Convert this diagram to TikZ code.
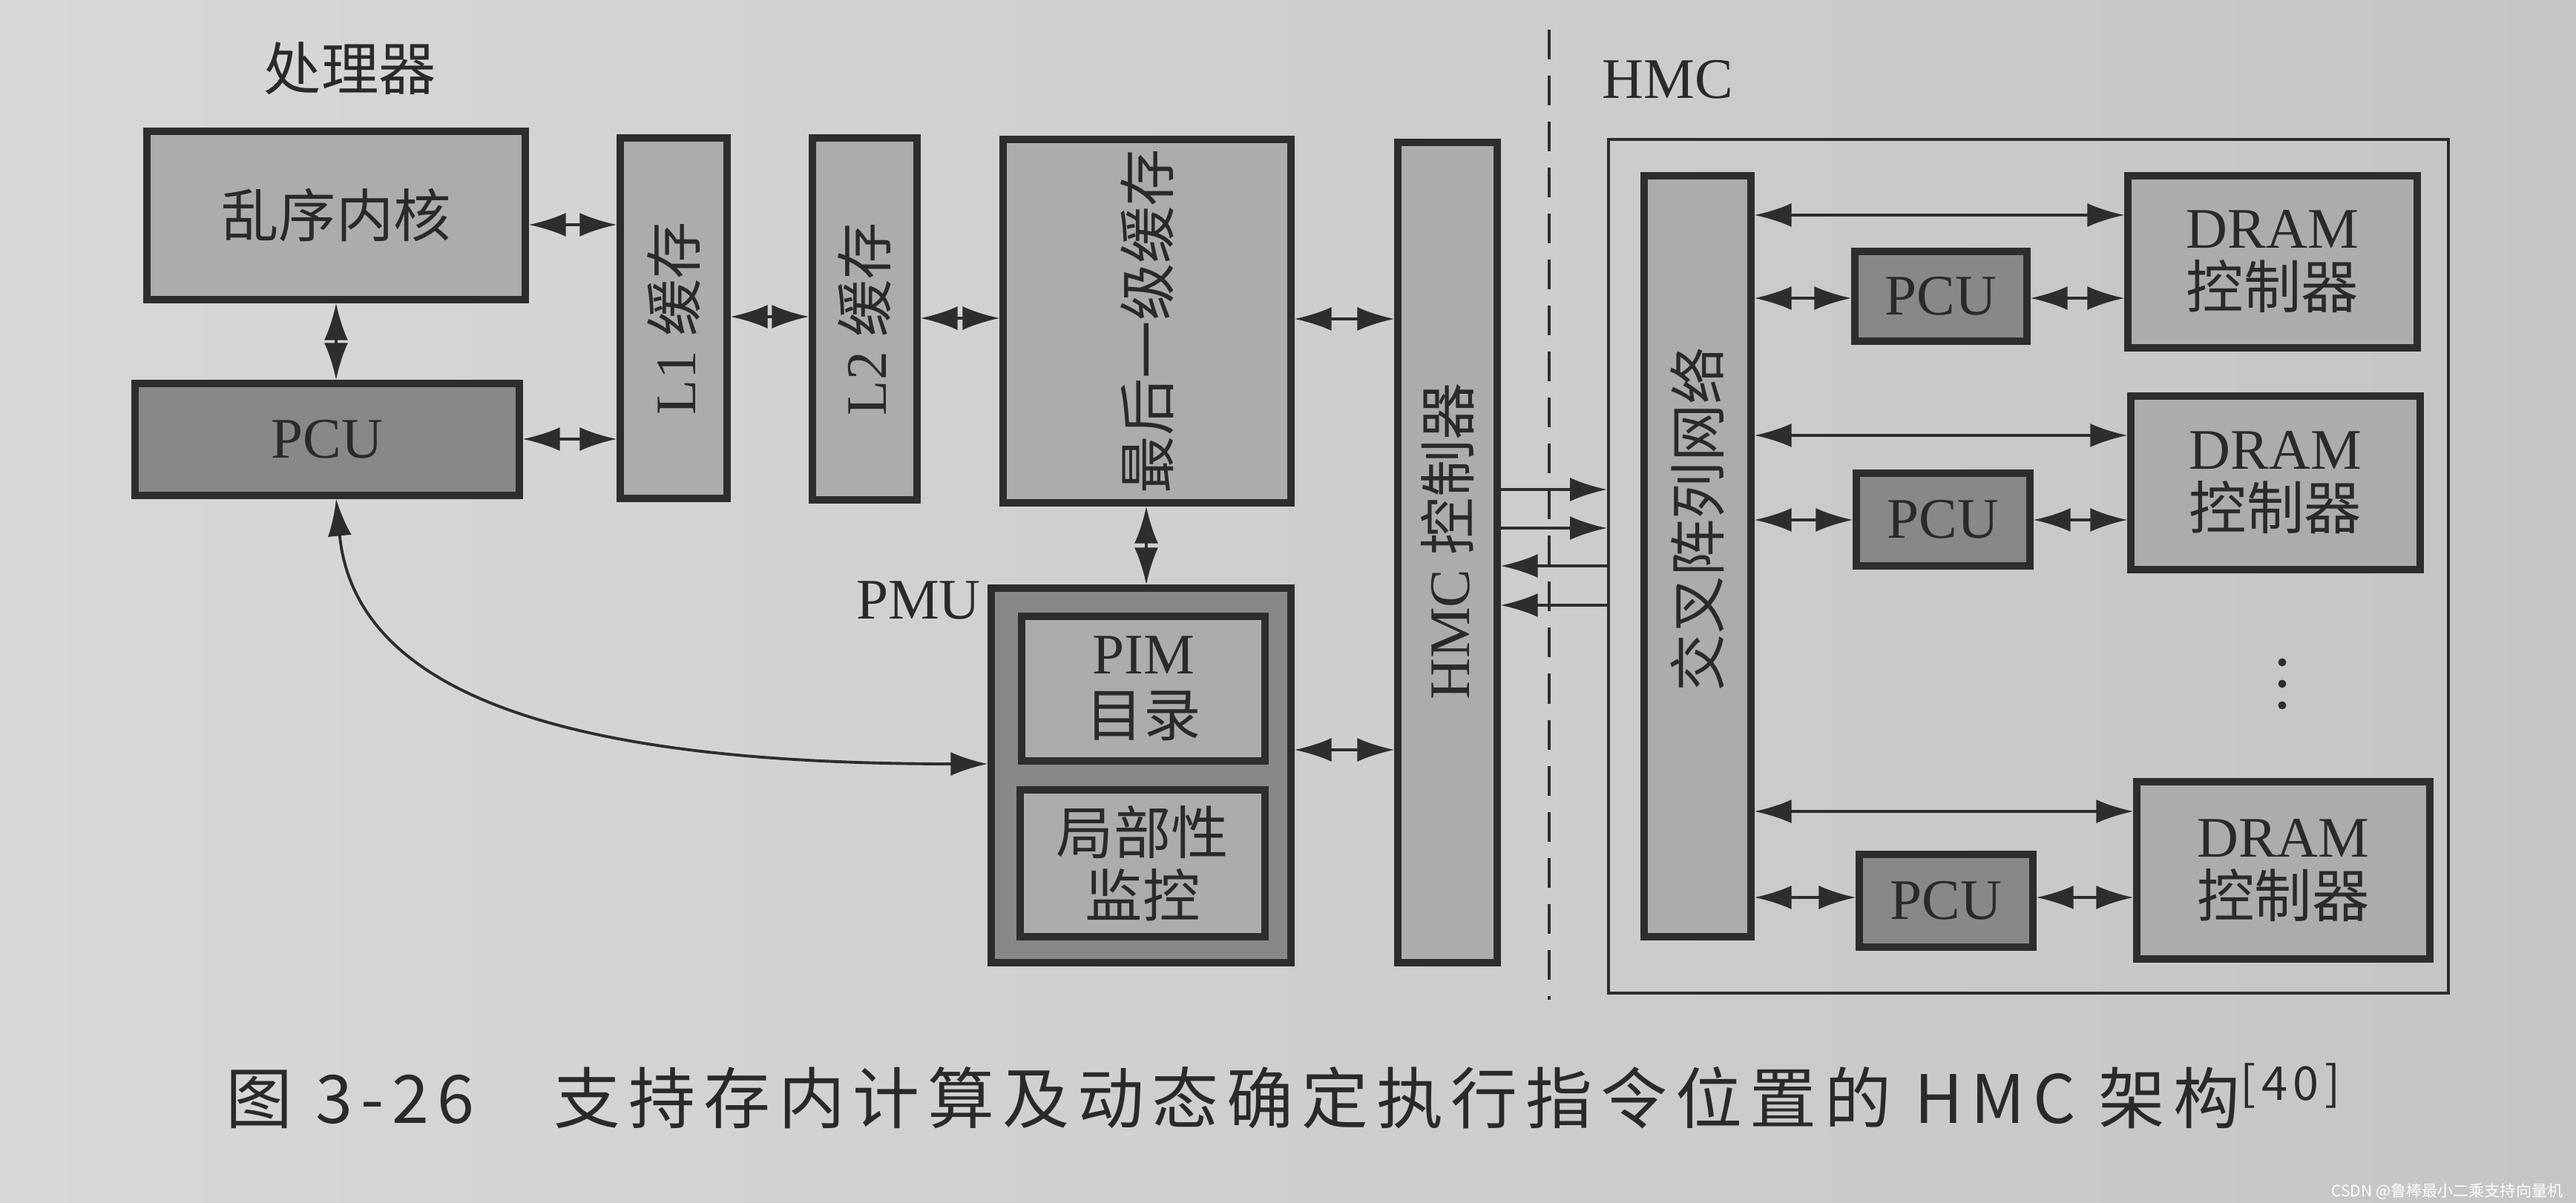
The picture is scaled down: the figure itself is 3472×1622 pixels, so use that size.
\documentclass[tikz,border=0pt]{standalone}
\usepackage{fontspec}
\usepackage{graphicx}
\setmainfont{Liberation Serif}
\newfontfamily\cjk{Noto Sans CJK SC}
\newfontfamily\capfont[LetterSpace=12]{Noto Sans CJK SC}
\newcommand\zh[1]{{\cjk #1}}
\usetikzlibrary{arrows.meta,fit}
\definecolor{paperL}{RGB}{216,217,214}
\definecolor{paperR}{RGB}{196,198,195}
\definecolor{lightfill}{RGB}{172,173,170}
\definecolor{darkfill}{RGB}{136,137,134}
\definecolor{edge}{RGB}{45,45,45}
\definecolor{ink}{RGB}{42,42,42}
\tikzset{
  box/.style={draw=edge, line width=2.6pt, fill=lightfill, inner sep=0pt},
  dbox/.style={box, fill=darkfill},
  hmcbox/.style={draw=edge, line width=1.1pt, inner sep=0pt},
  txt/.style={text=ink, font=\fontsize{22}{27}\selectfont, inner sep=0pt, align=center},
  dbl/.style={{Latex[length=0.5cm,width=0.32cm]}-{Latex[length=0.5cm,width=0.32cm]}, line width=1.1pt, draw=edge},
  sgl/.style={-{Latex[length=0.5cm,width=0.32cm]}, line width=1.1pt, draw=edge},
  divider/.style={draw=edge, line width=1.2pt, dash pattern=on 0.4cm off 0.22cm},
  dotmark/.style={fill=edge}
}
\begin{document}
\begin{tikzpicture}[x=0.01cm,y=-0.01cm]
\useasboundingbox (0,0) rectangle (3472,1622);
\shade[left color=paperL, right color=paperR] (0,0) rectangle (3472,1622);

% ---- processor side ----
\node[txt] (procL) at (472,92) {\zh{处理器}};
\node[box,  fit={(198,177)(708,404)}] (core) {};
\node[txt] (coreT) at (core) {\zh{乱序内核}};
\node[dbox, fit={(182,517)(700,668)}] (pcu0) {};
\node[txt] (pcu0T) at (pcu0) {PCU};
\node[box,  fit={(836,186)(980,672)}] (l1) {};
\node[txt, rotate=90] (l1T) at (l1) {L1 \zh{缓存}};
\node[box,  fit={(1095,186)(1236,674)}] (l2) {};
\node[txt, rotate=90] (l2T) at (l2) {L2 \zh{缓存}};
\node[box,  fit={(1352,188)(1740,678)}] (llc) {};
\node[txt, rotate=90] (llcT) at (llc) {\zh{最后一级缓存}};

\node[txt] (pmuL) at (1238,810) {PMU};
\node[dbox, fit={(1336,793)(1740,1298)}] (pmu) {};
\node[box,  fit={(1377,831)(1705,1026)}] (pim) {};
\node[txt] (pimT) at (pim) {PIM\\[-3pt]\zh{目录}};
\node[box,  fit={(1375,1065)(1705,1263)}] (loc) {};
\node[txt] (locT) at (loc) {\zh{局部性}\\[-3pt]\zh{监控}};

\node[box,  fit={(1884,192)(2018,1298)}] (hmcc) {};
\node[txt, rotate=90] (hmccT) at (1951,730) {HMC \zh{控制器}};

% ---- divider ----
\coordinate (dtop) at (2088,40);
\coordinate (dbot) at (2088,1348);
\draw[divider] (dtop) -- (dbot);

% ---- HMC side ----
\node[txt] (hmcL) at (2248,107) {HMC};
\node[hmcbox, fit={(2168,188)(3300,1339)}] (outer) {};
\node[box,  fit={(2216,237)(2360,1263)}] (xbar) {};
\node[txt, rotate=90] (xbarT) at (2288,700) {\zh{交叉阵列网络}};

\node[box,  fit={(2868,237)(3258,469)}] (dram1) {};
\node[txt] (dram1T) at (dram1) {DRAM\\[-4pt]\zh{控制器}};
\node[dbox, fit={(2500,339)(2732,460)}] (pcu1) {};
\node[txt] (pcu1T) at (pcu1) {PCU};

\node[box,  fit={(2872,534)(3262,768)}] (dram2) {};
\node[txt] (dram2T) at (dram2) {DRAM\\[-4pt]\zh{控制器}};
\node[dbox, fit={(2502,638)(2736,763)}] (pcu2) {};
\node[txt] (pcu2T) at (pcu2) {PCU};

% vertical ellipsis
\fill[dotmark] (3076,893) circle (5.5);
\fill[dotmark] (3076,922) circle (5.5);
\fill[dotmark] (3076,951) circle (5.5);

\node[box,  fit={(2880,1054)(3275,1293)}] (dram3) {};
\node[txt] (dram3T) at (dram3) {DRAM\\[-4pt]\zh{控制器}};
\node[dbox, fit={(2506,1152)(2740,1277)}] (pcu3) {};
\node[txt] (pcu3T) at (pcu3) {PCU};

% ---- connectors: processor ----
\draw[dbl] (core.east |- 0,303) -- (l1.west |- 0,303);
\draw[dbl] (pcu0.east |- 0,592) -- (l1.west |- 0,592);
\draw[dbl] (core.south -| 453,0) -- (pcu0.north -| 453,0);
\draw[dbl] (l1.east |- 0,427) -- (l2.west |- 0,427);
\draw[dbl] (l2.east |- 0,429) -- (llc.west |- 0,429);
\draw[dbl] (llc.east |- 0,430) -- (hmcc.west |- 0,430);
\draw[dbl] (llc.south -| 1545,0) -- (pmu.north -| 1545,0);
\draw[dbl] (pmu.east |- 0,1011) -- (hmcc.west |- 0,1011);
\draw[dbl] (pcu0.south -| 453,0) .. controls (480,950) and (800,1030) .. (pmu.west |- 0,1030);

% ---- connectors: HMC link ----
\draw[sgl] (hmcc.east |- 0,660) -- (outer.west |- 0,660);
\draw[sgl] (hmcc.east |- 0,712) -- (outer.west |- 0,712);
\draw[sgl] (outer.west |- 0,763) -- (hmcc.east |- 0,763);
\draw[sgl] (outer.west |- 0,816) -- (hmcc.east |- 0,816);

% ---- connectors: inside HMC ----
\draw[dbl] (xbar.east |- 0,290) -- (dram1.west |- 0,290);
\draw[dbl] (xbar.east |- 0,402) -- (pcu1.west |- 0,402);
\draw[dbl] (pcu1.east |- 0,402) -- (dram1.west |- 0,402);
\draw[dbl] (xbar.east |- 0,587) -- (dram2.west |- 0,587);
\draw[dbl] (xbar.east |- 0,701) -- (pcu2.west |- 0,701);
\draw[dbl] (pcu2.east |- 0,701) -- (dram2.west |- 0,701);
\draw[dbl] (xbar.east |- 0,1094) -- (dram3.west |- 0,1094);
\draw[dbl] (xbar.east |- 0,1210) -- (pcu3.west |- 0,1210);
\draw[dbl] (pcu3.east |- 0,1210) -- (dram3.west |- 0,1210);

% ---- caption ----
\node[anchor=west, text=ink, inner sep=0pt] (cap) at (304,1478)
  {\resizebox{28.5cm}{!}{\fontsize{26}{30}\capfont 图 3-26\hspace{1.2em}支持存内计算及动态确定执行指令位置的 HMC 架构\textsuperscript{[40]}}};
\node[anchor=east, text=white, inner sep=0pt, font=\fontsize{6}{7}\cjk] (wm) at (3455,1606) {CSDN @鲁棒最小二乘支持向量机};
\end{tikzpicture}
\end{document}
